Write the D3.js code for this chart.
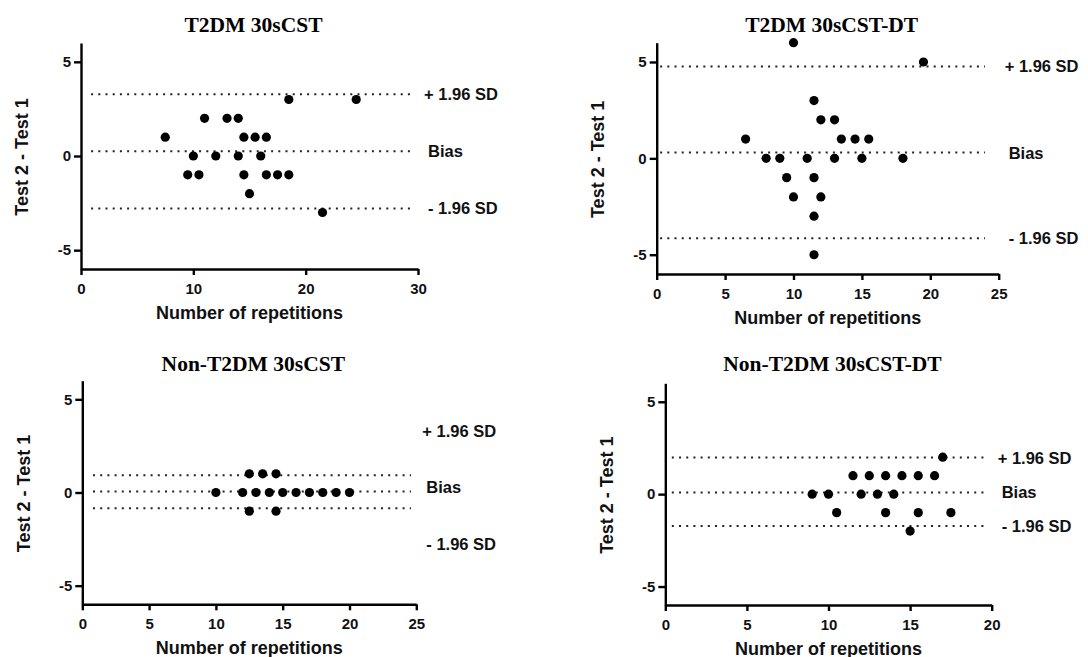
<!DOCTYPE html>
<html>
<head>
<meta charset="utf-8">
<script src="https://cdn.jsdelivr.net/npm/d3@7"></script>
<style>
  body { margin: 0; background: #fff; }
  svg text { font-family: "Liberation Sans", Arial, sans-serif; font-weight: bold; fill: #111; }
  svg text.title { font-family: "Liberation Serif", "Times New Roman", serif; fill: #000; }
</style>
</head>
<body>
<div id="chart-area"></div>
<script>
// titles, axis texts, ticks
const titles = ["T2DM 30sCST", "T2DM 30sCST-DT", "Non-T2DM 30sCST", "Non-T2DM 30sCST-DT"]
const limitLabels = ["+ 1.96 SD", "Bias", "- 1.96 SD"]
const xTitle = "Number of repetitions"
const yTitle = "Test 2 - Test 1"
const yDomain = [-6, 6]
const yTicks = [-5, 0, 5]
const xMax = [30, 25, 25, 20]
const xTicks = [[0, 10, 20, 30], [0, 5, 10, 15, 20, 25], [0, 5, 10, 15, 20, 25], [0, 5, 10, 15, 20]]

// T2DM 30sCST
const reps1 = [7.5, 11, 13, 14, 10, 12, 14, 16, 14.5, 15.5, 16.5, 9.5, 10.5, 14.5, 16.5, 17.5, 18.5, 15, 18.5, 24.5, 21.5]
const diff1 = [1, 2, 2, 2, 0, 0, 0, 0, 1, 1, 1, -1, -1, -1, -1, -1, -1, -2, 3, 3, -3]
const limits1 = [3.28, 0.25, -2.79]
const labelAt1 = [3.28, 0.25, -2.79]
const lineSpan1 = [0.9, 29.5]

// T2DM 30sCST-DT
const reps2 = [10, 19.5, 11.5, 12, 13, 6.5, 13.5, 14.5, 15.5, 8, 9, 11, 13, 15, 18, 9.5, 11.5, 10, 12, 11.5, 11.5]
const diff2 = [6, 5, 3, 2, 2, 1, 1, 1, 1, 0, 0, 0, 0, 0, 0, -1, -1, -2, -2, -3, -5]
const limits2 = [4.77, 0.3, -4.14]
const labelAt2 = [4.77, 0.3, -4.14]
const lineSpan2 = [0.25, 24]

// Non-T2DM 30sCST
const reps3 = [12.5, 13.5, 14.5, 10, 12, 13, 14, 15, 16, 17, 18, 19, 20, 12.5, 14.5]
const diff3 = [1, 1, 1, 0, 0, 0, 0, 0, 0, 0, 0, 0, 0, -1, -1]
const limits3 = [0.92, 0.05, -0.85]
const labelAt3 = [3.29, 0.29, -2.76]
const lineSpan3 = [0.8, 24.6]

// Non-T2DM 30sCST-DT
const reps4 = [17, 11.5, 12.5, 13.5, 14.5, 15.5, 16.5, 9, 10, 12, 13, 14, 10.5, 13.5, 15.5, 17.5, 15]
const diff4 = [2, 1, 1, 1, 1, 1, 1, 0, 0, 0, 0, 0, -1, -1, -1, -1, -2]
const limits4 = [1.98, 0.09, -1.73]
const labelAt4 = [1.98, 0.09, -1.73]
const lineSpan4 = [0.4, 19.6]

const series = [
  { reps: reps1, diff: diff1, limits: limits1, labelAt: labelAt1, span: lineSpan1 },
  { reps: reps2, diff: diff2, limits: limits2, labelAt: labelAt2, span: lineSpan2 },
  { reps: reps3, diff: diff3, limits: limits3, labelAt: labelAt3, span: lineSpan3 },
  { reps: reps4, diff: diff4, limits: limits4, labelAt: labelAt4, span: lineSpan4 }
]

// panel frames (pixels)
const frames = [
  { left: 81, right: 418, top: 43, bottom: 269, titleY: 32 },
  { left: 656.7, right: 998.7, top: 42.7, bottom: 274, titleY: 31.7 },
  { left: 82.3, right: 416.3, top: 380.7, bottom: 604.3, titleY: 370.7 },
  { left: 665.3, right: 991.7, top: 383.3, bottom: 605, titleY: 370.7 }
]

const svg = d3.select("#chart-area").append("svg")
  .attr("width", 1088)
  .attr("height", 657)

function styleAxis(a) {
  a.attr("font-size", 15)
    .attr("font-family", "Liberation Sans, Arial, sans-serif")
    .attr("font-weight", "bold")
  a.selectAll("path, line")
    .attr("stroke", "#000")
    .attr("stroke-width", 2.4)
  a.selectAll("text")
    .attr("fill", "#111")
    .style("font-size", "15px")
}

frames.forEach((f, i) => {
  const s = series[i]
  const x = d3.scaleLinear().domain([0, xMax[i]]).range([f.left, f.right])
  const y = d3.scaleLinear().domain(yDomain).range([f.bottom, f.top])
  const g = svg.append("g")

  // title
  g.append("text")
    .attr("class", "title")
    .attr("x", (f.left + f.right) / 2 + 4)
    .attr("y", f.titleY)
    .attr("text-anchor", "middle")
    .style("font-size", "21.5px")
    .text(titles[i])

  // axes
  const xAxisCall = d3.axisBottom(x)
    .tickValues(xTicks[i])
    .tickFormat(d => String(d))
    .tickSizeOuter(0)
    .tickSizeInner(6)
    .tickPadding(8)
  const yAxisCall = d3.axisLeft(y)
    .tickValues(yTicks)
    .tickFormat(d => String(d))
    .tickSizeOuter(0)
    .tickSizeInner(7)
    .tickPadding(3)

  const xAxis = g.append("g")
    .attr("transform", `translate(0, ${f.bottom})`)
  xAxis.call(xAxisCall)
  styleAxis(xAxis)

  const yAxis = g.append("g")
    .attr("transform", `translate(${f.left}, 0)`)
  yAxis.call(yAxisCall)
  styleAxis(yAxis)

  // axis titles
  g.append("text")
    .attr("x", (f.left + f.right) / 2)
    .attr("y", f.bottom + 49.5)
    .attr("text-anchor", "middle")
    .style("font-size", "18px")
    .text(xTitle)

  g.append("text")
    .attr("transform", `translate(${f.left - 59}, ${(f.top + f.bottom) / 2 + 1}) rotate(-90)`)
    .attr("dy", "0.36em")
    .attr("text-anchor", "middle")
    .style("font-size", "18px")
    .text(yTitle)

  // bias and limits of agreement
  g.selectAll(".limit")
    .data(s.limits)
    .enter().append("line")
    .attr("class", "limit")
    .attr("x1", x(s.span[0]))
    .attr("x2", x(s.span[1]))
    .attr("y1", d => y(d))
    .attr("y2", d => y(d))
    .attr("stroke", "#222")
    .attr("stroke-width", 2)
    .attr("stroke-dasharray", "2 5.2")

  g.selectAll(".limit-label")
    .data(s.labelAt)
    .enter().append("text")
    .attr("class", "limit-label")
    .attr("x", (d, j) => f.right + (j === 0 ? 6 : 10))
    .attr("y", d => y(d))
    .attr("dy", "0.36em")
    .style("font-size", "16.5px")
    .text((d, j) => limitLabels[j])

  // points
  g.selectAll(".dot")
    .data(s.reps.map((r, j) => ({ r: r, d: s.diff[j] })))
    .enter().append("circle")
    .attr("class", "dot")
    .attr("cx", d => x(d.r))
    .attr("cy", d => y(d.d))
    .attr("r", 4.6)
    .attr("fill", "#000")
})
</script>
</body>
</html>
